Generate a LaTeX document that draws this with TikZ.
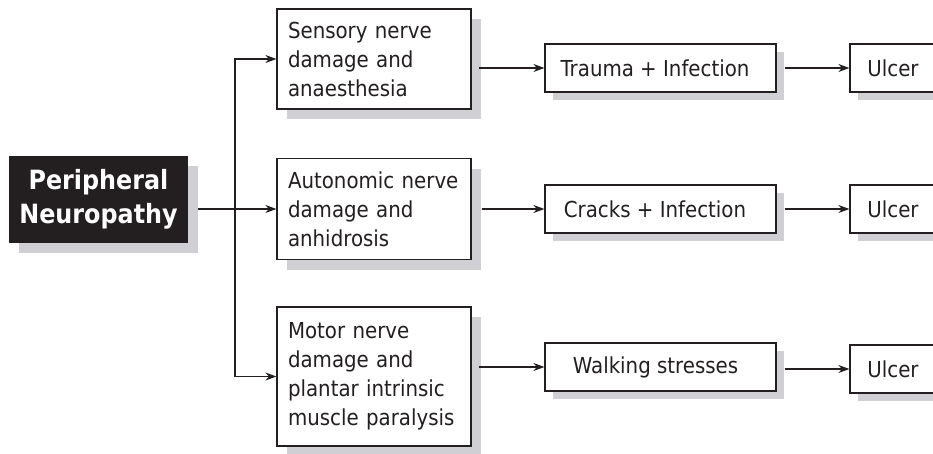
\documentclass[tikz,border=0pt]{standalone}
\usepackage{fontspec}
\setmainfont{DejaVu Sans}[FakeStretch=0.9]
\usetikzlibrary{arrows.meta,shadows,calc}
\definecolor{shadowgrey}{RGB}{208,208,212}
\definecolor{ink}{RGB}{35,31,32}
\begin{document}
\begin{tikzpicture}[x=1pt,y=-1pt,
  box/.style={draw=ink, line width=1.2pt, fill=white, text=ink, font=\fontsize{22}{29}\selectfont},
  bigshadow/.style={drop shadow={shadow xshift=10pt, shadow yshift=-10pt, fill=shadowgrey, opacity=1}},
  smallshadow/.style={drop shadow={shadow xshift=8pt, shadow yshift=-8pt, fill=shadowgrey, opacity=1}},
  cause/.style={box, bigshadow, text width=172pt, inner xsep=11pt, inner ysep=0pt, align=left},
  effect/.style={box, smallshadow, minimum width=231pt, minimum height=48pt, inner sep=0pt},
  ulcerbox/.style={box, smallshadow, minimum width=86pt, minimum height=48pt, inner sep=0pt},
  arr/.style={draw=ink, line width=1.2pt, -{Stealth[length=11pt,width=8pt]}}
]
\clip (0,0) rectangle (933,453);
\fill[white] (0,0) rectangle (933,453);

\node[fill=ink, text=white, bigshadow, minimum width=179pt, minimum height=87pt, inner sep=0pt,
      align=center, font=\bfseries\fontsize{26.5}{34}\selectfont] (pn) at (98.5,199.5) {Peripheral\\Neuropathy};

\node[cause, minimum height=100pt] (sens) at (374,59) {Sensory nerve\\damage and\\anaesthesia};
\node[cause, minimum height=101pt] (auto) at (374,209) {Autonomic nerve\\damage and\\anhidrosis};
\node[cause, minimum height=139pt] (motor) at (374,376.5) {Motor nerve\\damage and\\plantar intrinsic\\muscle paralysis};

\node[effect] (trauma) at (660.5,68) {Trauma + Infection\hspace*{11pt}};
\node[effect] (cracks) at (660.5,209) {Cracks + Infection\hspace*{11pt}};
\node[effect] (walk) at (660.5,367) {Walking stresses\hspace*{10pt}};

\node[ulcerbox] (u1) at (893,68) {Ulcer};
\node[ulcerbox] (u2) at (893,209) {Ulcer};
\node[ulcerbox] (u3) at (893,369) {Ulcer};

\coordinate (j) at (235,209);
\draw[arr] ($(pn.east |- auto.west)+(10,0)$) -- (auto.west);
\draw[arr] (j) |- (sens.west);
\draw[arr] (j) |- (motor.west);

\draw[arr] ($(sens.east |- trauma.west)+(7,0)$) -- (trauma.west);
\draw[arr] ($(auto.east |- cracks.west)+(10,0)$) -- (cracks.west);
\draw[arr] ($(motor.east |- walk.west)+(7,0)$) -- (walk.west);

\draw[arr] ($(trauma.east |- u1.west)+(8,0)$) -- (u1.west);
\draw[arr] ($(cracks.east |- u2.west)+(8,0)$) -- (u2.west);
\draw[arr] ($(walk.east |- u3.west)+(8,0)$) -- (u3.west);
\end{tikzpicture}
\end{document}
